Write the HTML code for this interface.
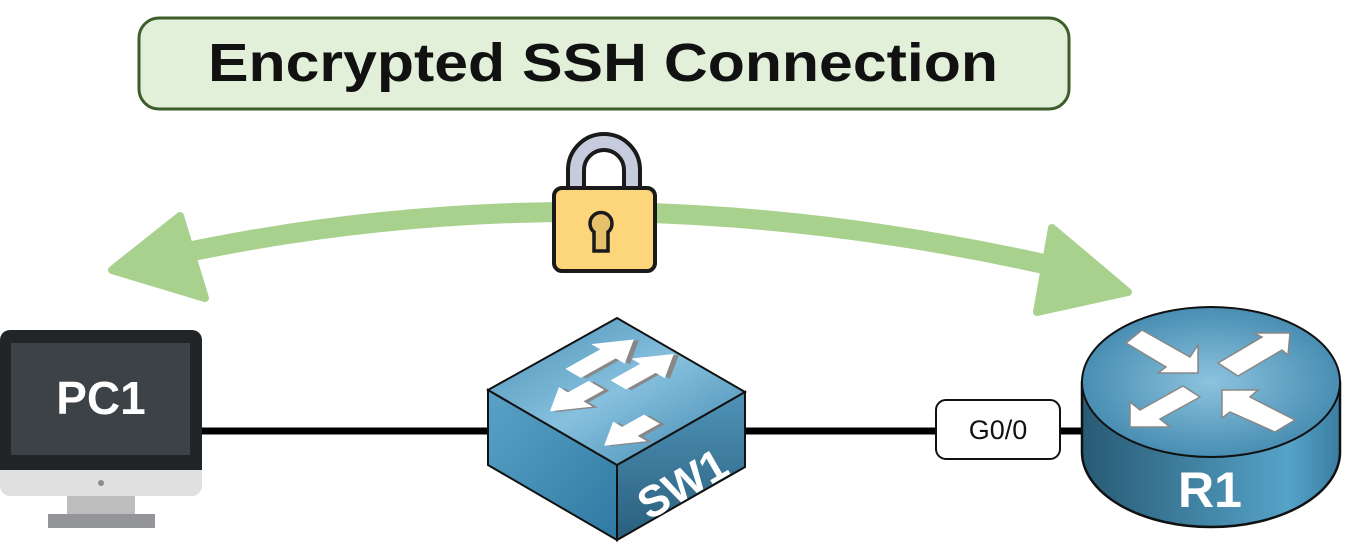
<!DOCTYPE html>
<html><head><meta charset="utf-8"><style>html,body{margin:0;padding:0;background:#fff}svg{display:block}</style></head>
<body>
<svg width="1350" height="558" viewBox="0 0 1350 558" xmlns="http://www.w3.org/2000/svg">
<defs>
<linearGradient id="top" x1="0" y1="0" x2="1" y2="1"><stop offset="0" stop-color="#4a8fb3"/><stop offset="0.5" stop-color="#86c0de"/><stop offset="1" stop-color="#3f86ad"/></linearGradient>
<linearGradient id="lf" x1="0" y1="0" x2="1" y2="1"><stop offset="0" stop-color="#5aa2c7"/><stop offset="1" stop-color="#2f7aa3"/></linearGradient>
<linearGradient id="rf" x1="0" y1="0" x2="0" y2="1"><stop offset="0" stop-color="#4f93b8"/><stop offset="1" stop-color="#2a5f7d"/></linearGradient>
<linearGradient id="side" x1="0" y1="0" x2="1" y2="0"><stop offset="0" stop-color="#285a74"/><stop offset="0.8" stop-color="#55a3c8"/><stop offset="1" stop-color="#3a7da2"/></linearGradient>
<radialGradient id="rtop" cx="0.5" cy="0.5" r="0.6"><stop offset="0" stop-color="#8cc3de"/><stop offset="1" stop-color="#3b83aa"/></radialGradient>
</defs>
<rect x="139" y="18" width="930" height="91" rx="20" fill="#e2efd9" stroke="#3d5e2a" stroke-width="3"/>
<text x="208" y="81" textLength="790" lengthAdjust="spacingAndGlyphs" font-family="Liberation Sans, sans-serif" font-weight="bold" font-size="54" fill="#111">Encrypted SSH Connection</text>
<path d="M160 258 Q600 160 1070 270" fill="none" stroke="#a9d18e" stroke-width="20" stroke-linecap="round"/>
<polygon points="112,270 180,216 205,298" fill="#a9d18e" stroke="#a9d18e" stroke-width="8" stroke-linejoin="round"/>
<polygon points="1128,292 1052,228 1037,312" fill="#a9d18e" stroke="#a9d18e" stroke-width="8" stroke-linejoin="round"/>
<path d="M568 188 V170 A36 36 0 0 1 640 170 V188 H624 V170 A20 20 0 0 0 584 170 V188 Z" fill="#c6ccdd" stroke="#1a1a1a" stroke-width="4"/>
<rect x="554" y="188" width="101" height="83" rx="8" fill="#fdd57a" stroke="#1a1a1a" stroke-width="4"/>
<path d="M594 232 A11 11 0 1 1 608 232 V251 H594 Z" fill="#e6c06a" stroke="#1a1a1a" stroke-width="3.5"/>
<line x1="200" y1="431" x2="1085" y2="431" stroke="#000" stroke-width="7"/>
<rect x="0" y="330" width="202" height="166" rx="10" fill="#e0e0e0"/>
<path d="M0 340 A10 10 0 0 1 10 330 H192 A10 10 0 0 1 202 340 V470 H0 Z" fill="#212528"/>
<rect x="11" y="343" width="179" height="112" fill="#3d4247"/>
<circle cx="101" cy="483" r="3" fill="#8a8d90"/>
<rect x="67" y="496" width="68" height="19" fill="#bdbdbd"/>
<rect x="48" y="514" width="107" height="14" fill="#939598"/>
<text x="101" y="414" text-anchor="middle" font-family="Liberation Sans, sans-serif" font-weight="bold" font-size="46" fill="#fff">PC1</text>
<polygon points="488,390 617,465 617,540 488,465" fill="url(#lf)" stroke="#111" stroke-width="2"/>
<polygon points="617,465 745,392 745,467 617,540" fill="url(#rf)" stroke="#111" stroke-width="2"/>
<polygon points="617,318 745,392 617,465 488,390" fill="url(#top)" stroke="#111" stroke-width="2"/>
<g transform="matrix(1.29,-0.72,1.29,0.75,488,390)" fill="#fff">
<g transform="translate(1.5,2.5)" fill="#888">
<polygon points="45,15 72,15 72,8 92,21 72,34 72,27 45,27"/>
<polygon points="55,40 78,40 78,33 98,46 78,59 78,52 55,52"/>
<polygon points="46,32 30,32 30,25 10,38 30,51 30,44 46,44"/>
<polygon points="45,76 28,76 28,69 8,82 28,95 28,88 45,88"/>
</g>
<polygon points="45,15 72,15 72,8 92,21 72,34 72,27 45,27"/>
<polygon points="55,40 78,40 78,33 98,46 78,59 78,52 55,52"/>
<polygon points="46,32 30,32 30,25 10,38 30,51 30,44 46,44"/>
<polygon points="45,76 28,76 28,69 8,82 28,95 28,88 45,88"/>
</g>
<text x="0" y="0" transform="translate(690,497) rotate(-30)" text-anchor="middle" font-family="Liberation Sans, sans-serif" font-weight="bold" font-size="44" fill="#fff">SW1</text>
<rect x="936" y="400" width="124" height="59" rx="10" fill="#fff" stroke="#111" stroke-width="2"/>
<text x="998" y="439" text-anchor="middle" font-family="Liberation Sans, sans-serif" font-size="27" fill="#111">G0/0</text>
<path d="M1082 382 V452 A129 75 0 0 0 1340 452 V382 Z" fill="url(#side)" stroke="#111" stroke-width="2.5"/>
<ellipse cx="1211" cy="382" rx="129" ry="75" fill="url(#rtop)" stroke="#111" stroke-width="2"/>
<g fill="#fff" stroke="#888" stroke-width="1.5">
<polygon points="1126,343 1142,330 1190,357 1198,345 1198,373 1158,373 1166,367"/>
<polygon points="1218,363 1262,337 1254,333 1290,333 1288,355 1282,350 1238,376"/>
<polygon points="1200,397 1183,386 1140,410 1130,402 1130,427 1170,427 1160,419"/>
<polygon points="1222,390 1222,418 1230,412 1275,432 1295,420 1250,397 1258,390"/>
</g>
<text x="1210" y="507" text-anchor="middle" font-family="Liberation Sans, sans-serif" font-weight="bold" font-size="50" fill="#fff">R1</text>
</svg>
</body></html>
